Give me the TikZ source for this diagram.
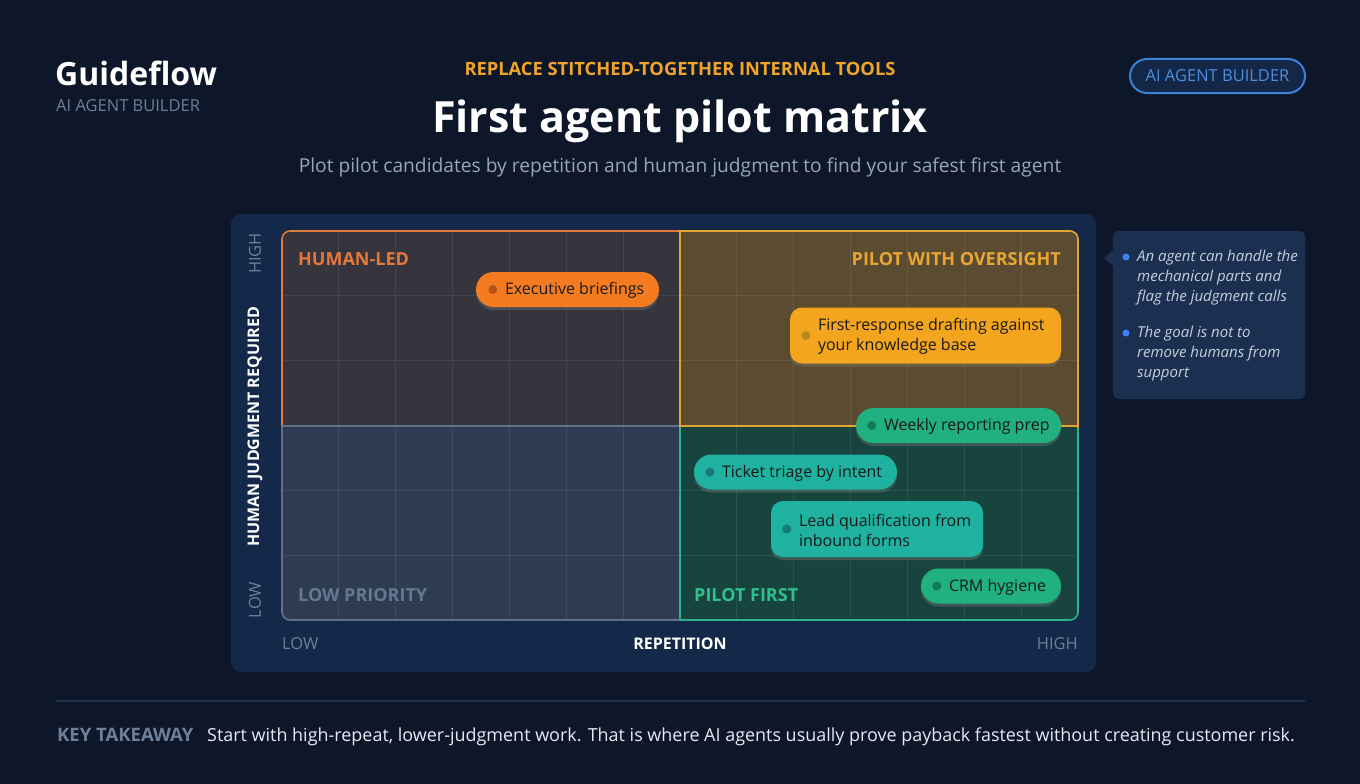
\documentclass[tikz,border=0pt]{standalone}
\usepackage{fontspec}
\setmainfont{Open Sans}
\usetikzlibrary{shapes.misc,shadows}
\definecolor{bg}{HTML}{0D1729}
\definecolor{panel}{HTML}{14294A}
\definecolor{gtxt}{HTML}{6E7F99}
\definecolor{subt}{HTML}{98A6B9}
\definecolor{amber}{HTML}{F0A52A}
\definecolor{badgeB}{HTML}{3B82D6}
\definecolor{badgeT}{HTML}{4A8FE0}
\definecolor{badgeF}{HTML}{152746}
\definecolor{qTL}{HTML}{36343C}
\definecolor{qTR}{HTML}{5B4B30}
\definecolor{qBL}{HTML}{2E3C53}
\definecolor{qBR}{HTML}{18443F}
\definecolor{bTL}{HTML}{E07B39}
\definecolor{bTR}{HTML}{E6A532}
\definecolor{bBL}{HTML}{5F7089}
\definecolor{bBR}{HTML}{2BB48C}
\definecolor{lTL}{HTML}{E8773A}
\definecolor{lTR}{HTML}{E9A630}
\definecolor{lBL}{HTML}{66778F}
\definecolor{lBR}{HTML}{2FC08C}
\definecolor{pOr}{HTML}{F47B20}
\definecolor{dOr}{HTML}{B8501A}
\definecolor{pAm}{HTML}{F3A51D}
\definecolor{dAm}{HTML}{B88A1D}
\definecolor{pGr}{HTML}{21B07F}
\definecolor{dGr}{HTML}{137A58}
\definecolor{pTe}{HTML}{1FB2A0}
\definecolor{dTe}{HTML}{157A70}
\definecolor{ptext}{HTML}{1A1A1A}
\definecolor{callF}{HTML}{1B3050}
\definecolor{callT}{HTML}{C5CFDC}
\definecolor{bulB}{HTML}{3B82F6}
\definecolor{sepL}{HTML}{22344F}
\definecolor{keyT}{HTML}{E6EBF2}
\begin{document}
\begin{tikzpicture}[x=1pt,y=-1pt,
  pill/.style={rounded rectangle, minimum height=35pt, inner sep=0pt, draw=none,
    drop shadow={opacity=0.35, shadow xshift=0pt, shadow yshift=-3pt}},
  box2/.style={rectangle, rounded corners=12pt, inner sep=0pt, draw=none,
    drop shadow={opacity=0.35, shadow xshift=0pt, shadow yshift=-3pt}},
  pilltext/.style={anchor=west, inner sep=0pt, text=ptext, font=\fontsize{16}{20}\selectfont, align=left, yshift=-1pt},
  dotc/.style={circle, inner sep=0pt, minimum size=9pt},
  qlabel/.style={inner sep=0pt, font=\fontsize{18}{21}\selectfont\bfseries},
  axlab/.style={inner sep=0pt, font=\fontsize{16.5}{19}\selectfont, text=gtxt},
  axmain/.style={inner sep=0pt, font=\fontsize{16}{19}\selectfont\bfseries, text=white},
  calltext/.style={anchor=north west, inner sep=0pt, align=left,
    font=\fontsize{15}{20}\selectfont\itshape, text=callT},
  bullet/.style={circle, fill=bulB, inner sep=0pt, minimum size=7pt}
]
\fill[bg] (0,0) rectangle (1360,784);
\useasboundingbox (0,0) rectangle (1360,784);

% header
\node[anchor=base west, inner sep=0pt, text=white, font=\fontsize{32}{38}\selectfont\bfseries] (brand) at (55,85) {Guideflow};
\node[anchor=base west, inner sep=0pt, text=gtxt, font=\fontsize{16.5}{19}\selectfont] (brandsub) at (56,111) {AI AGENT BUILDER};
\node[anchor=base, inner sep=0pt, text=amber, font=\fontsize{18.3}{21}\selectfont\bfseries] (kicker) at (680,76) {REPLACE STITCHED-TOGETHER INTERNAL TOOLS};
\node[anchor=base, inner sep=0pt, text=white, font=\fontsize{43}{49}\selectfont\bfseries] (title) at (680,132) {First agent pilot matrix};
\node[anchor=base, inner sep=0pt, text=subt, font=\fontsize{19.2}{22}\selectfont] (subtitle) at (680,172) {Plot pilot candidates by repetition and human judgment to find your safest first agent};
\node[rounded rectangle, draw=badgeB, line width=2pt, fill=badgeF, minimum width=175pt, minimum height=34pt, inner sep=0pt,
  text=badgeT, font=\fontsize{16.5}{19}\selectfont] (badge) at (1217.5,76) {AI AGENT BUILDER};

% panel
\fill[panel, rounded corners=10pt] (231,214) rectangle (1096,672);

% quadrants
\begin{scope}
  \clip[rounded corners=8pt] (282,231) rectangle (1078,620);
  \fill[qTL] (282,231) rectangle (680,426);
  \fill[qTR] (680,231) rectangle (1078,426);
  \fill[qBL] (282,426) rectangle (680,620);
  \fill[qBR] (680,426) rectangle (1078,620);
  \foreach \k in {1,...,13} {
    \draw[white, opacity=0.08, line width=0.8pt] ({282+\k*56.857},231) -- ({282+\k*56.857},620);
  }
  \foreach \k in {1,2,4,5} {
    \draw[white, opacity=0.08, line width=0.8pt] (282,{231+\k*64.83}) -- (1078,{231+\k*64.83});
  }
\end{scope}
% borders
\begin{scope}
  \clip (270,220) rectangle (680,426);
  \draw[bTL, line width=1.6pt, rounded corners=8pt] (282,231) rectangle (1078,620);
\end{scope}
\begin{scope}
  \clip (270,426) rectangle (680,630);
  \draw[bBL, line width=1.6pt, rounded corners=8pt] (282,231) rectangle (1078,620);
\end{scope}
\draw[bBL, line width=1.6pt] (282,426) -- (680,426);
\begin{scope}
  \clip (680,426) rectangle (1090,630);
  \draw[bBR, line width=1.6pt, rounded corners=8pt] (282,231) rectangle (1078,620);
\end{scope}
\draw[bBR, line width=1.6pt] (680,426) -- (680,620);
\begin{scope}
  \clip (679,220) rectangle (1090,427);
  \draw[bTR, line width=1.6pt, rounded corners=8pt] (282,231) rectangle (1078,620);
\end{scope}
\draw[bTR, line width=1.6pt] (680,231) -- (680,426) -- (1078,426);

% quadrant labels
\node[qlabel, anchor=base west, text=lTL] (qhl) at (298,265) {HUMAN-LED};
\node[qlabel, anchor=base east, text=lTR] (qpo) at (1061,265) {PILOT WITH OVERSIGHT};
\node[qlabel, anchor=base west, text=lBL] (qlp) at (298,601) {LOW PRIORITY};
\node[qlabel, anchor=base west, text=lBR] (qpf) at (694,601) {PILOT FIRST};

% axis labels
\node[axlab, rotate=90] (yhigh) at (255,253.5) {HIGH};
\node[axmain, rotate=90] (ymain) at (255,427) {HUMAN JUDGMENT REQUIRED};
\node[axlab, rotate=90] (ylow) at (255,600) {LOW};
\node[axlab, anchor=west] (xlow) at (282,644) {LOW};
\node[axmain] (xmain) at (680,644) {REPETITION};
\node[axlab, anchor=east] (xhigh) at (1078,644) {HIGH};

% pills
\node[pill, fill=pOr, minimum width=183pt] (exec) at (567.5,289.5) {};
\node[dotc, fill=dOr] (execd) at ([xshift=17pt]exec.west) {};
\node[pilltext] (exect) at ([xshift=29pt]exec.west) {Executive briefings};

\node[box2, fill=pAm, minimum width=271pt, minimum height=56pt] (frd) at (925.5,335.5) {};
\node[dotc, fill=dAm] (frdd) at ([xshift=16pt]frd.west) {};
\node[pilltext] (frdt) at ([xshift=28pt]frd.west) {First-response drafting against\\your knowledge base};

\node[pill, fill=pGr, minimum width=205pt] (wrp) at (958.5,425.5) {};
\node[dotc, fill=dGr] (wrpd) at ([xshift=16pt]wrp.west) {};
\node[pilltext] (wrpt) at ([xshift=28pt]wrp.west) {Weekly reporting prep};

\node[pill, fill=pTe, minimum width=203pt] (ttr) at (795.5,472) {};
\node[dotc, fill=dTe] (ttrd) at ([xshift=16pt]ttr.west) {};
\node[pilltext] (ttrt) at ([xshift=28pt]ttr.west) {Ticket triage by intent};

\node[box2, fill=pTe, minimum width=212pt, minimum height=56pt] (lq) at (877,529) {};
\node[dotc, fill=dTe] (lqd) at ([xshift=16pt]lq.west) {};
\node[pilltext] (lqt) at ([xshift=28pt]lq.west) {Lead qualification from\\inbound forms};

\node[pill, fill=pGr, minimum width=140pt] (crm) at (991,586) {};
\node[dotc, fill=dGr] (crmd) at ([xshift=16pt]crm.west) {};
\node[pilltext] (crmt) at ([xshift=28pt]crm.west) {CRM hygiene};

% callout
\fill[callF, rounded corners=6pt] (1113,231) rectangle (1305,399);
\fill[callF] (1114,249) -- (1104,258) -- (1114,267) -- cycle;
\node[bullet] (b1) at (1126,257) {};
\node[calltext] (c1) at (1137,250) {An agent can handle the\\mechanical parts and\\flag the judgment calls};
\node[bullet] (b2) at (1126,333) {};
\node[calltext] (c2) at (1137,326) {The goal is not to\\remove humans from\\support};

% footer
\draw[sepL, line width=1.5pt] (56,701) -- (1305,701);
\node[anchor=base west, inner sep=0pt, text=gtxt, font=\fontsize{18.5}{22}\selectfont\bfseries] (key) at (57,741) {KEY TAKEAWAY};
\node[anchor=base west, inner sep=0pt, text=keyT, font=\fontsize{17.95}{22}\selectfont] (keytxt) at (207,741) {Start with high-repeat, lower-judgment work. That is where AI agents usually prove payback fastest without creating customer risk.};
\end{tikzpicture}
\end{document}
